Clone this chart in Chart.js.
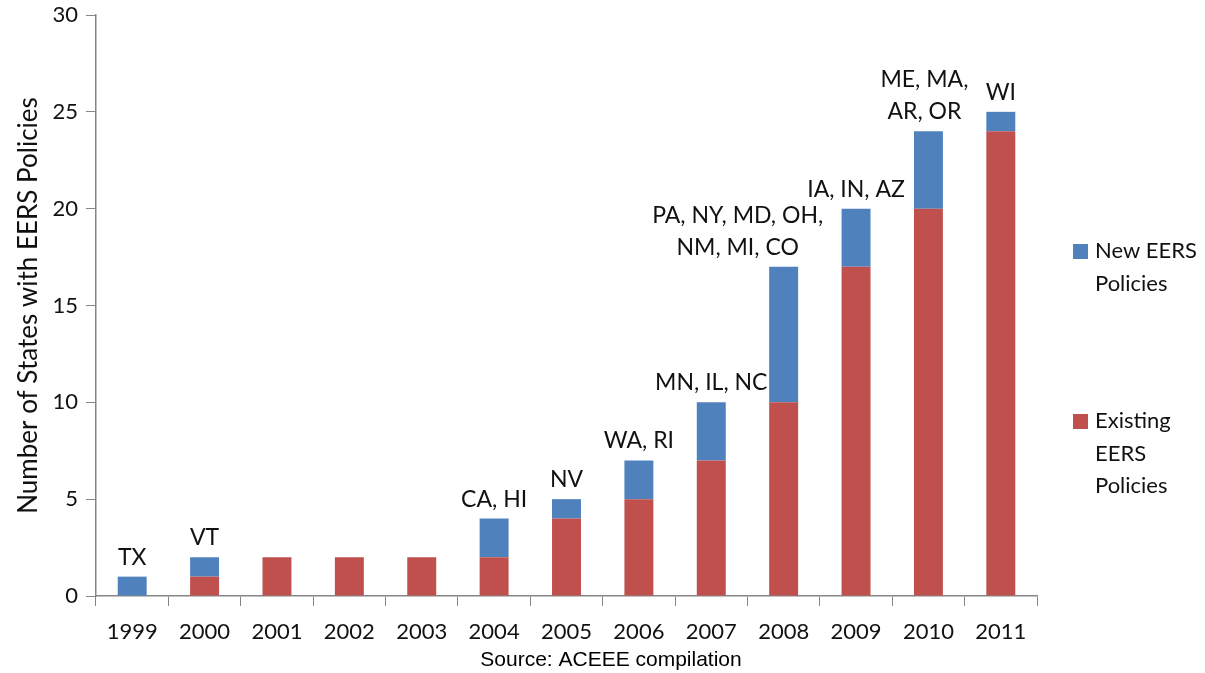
<!DOCTYPE html>
<html>
<head>
<meta charset="utf-8">
<script src="https://cdn.jsdelivr.net/npm/chart.js@4"></script>
<style>
  html, body { margin: 0; padding: 0; background: #fff; }
  #wrap { width: 1205px; height: 673px; }
</style>
</head>
<body>
<div id="wrap"><canvas id="eersChart" width="1205" height="673"></canvas></div>
<script>
// Données
const years = ['1999', '2000', '2001', '2002', '2003', '2004', '2005', '2006', '2007', '2008', '2009', '2010', '2011'];
const existingPolicies = [0, 1, 2, 2, 2, 2, 4, 5, 7, 10, 17, 20, 24];
const newPolicies = [1, 1, 0, 0, 0, 2, 1, 2, 3, 7, 3, 4, 1];
const newStates = [['TX'], ['VT'], [], [], [], ['CA, HI'], ['NV'], ['WA, RI'], ['MN, IL, NC'],
    ['PA, NY, MD, OH,', 'NM, MI, CO'], ['IA, IN, AZ'], ['ME, MA,', 'AR, OR'], ['WI']];
const yTicks = [0, 5, 10, 15, 20, 25, 30];

const FONT = 'Lato, "Open Sans", sans-serif';
const BLUE = '#4F81BD';
const RED = '#C0504D';
const AXIS = '#868686';

// Étiquettes des états au-dessus des barres, légende et source
const annotations = {
    id: 'annotations',
    afterDatasetsDraw(chart) {
        const { ctx } = chart;
        const top = chart.getDatasetMeta(1);
        const shift = { 9: -46, 11: -4 };
        ctx.save();
        ctx.font = '23px ' + FONT;
        ctx.fillStyle = '#111';
        ctx.textAlign = 'center';
        ctx.textBaseline = 'alphabetic';
        newStates.forEach((lines, i) => {
            if (!lines.length) return;
            const bar = top.data[i];
            const x = bar.x + (shift[i] || 0);
            let y = bar.y - 12;
            for (let k = lines.length - 1; k >= 0; k--) {
                ctx.fillText(lines[k], x, y);
                y -= 32;
            }
        });

        // Légende
        const items = [
            { color: BLUE, lines: ['New EERS', 'Policies'], y: 251 },
            { color: RED, lines: ['Existing', 'EERS', 'Policies'], y: 421 },
        ];
        ctx.font = '22px ' + FONT;
        ctx.textAlign = 'left';
        ctx.textBaseline = 'middle';
        items.forEach((it) => {
            ctx.fillStyle = it.color;
            ctx.fillRect(1073, it.y - 7, 15, 15);
            ctx.fillStyle = '#111';
            it.lines.forEach((t, k) => ctx.fillText(t, 1095, it.y + k * 32.5));
        });

        // Source
        ctx.font = '21px "Liberation Sans", Arial, sans-serif';
        ctx.fillStyle = '#000';
        ctx.textAlign = 'center';
        ctx.fillText('Source: ACEEE compilation', 611, 660);
        ctx.restore();
    },
};

const ctx = document.getElementById('eersChart').getContext('2d');
const eersChart = new Chart(ctx, {
    type: 'bar',
    data: {
        labels: years,
        datasets: [
            {
                label: 'Existing EERS Policies',
                data: existingPolicies,
                backgroundColor: RED,
                categoryPercentage: 1,
                barPercentage: 0.4,
            },
            {
                label: 'New EERS Policies',
                data: newPolicies,
                backgroundColor: BLUE,
                categoryPercentage: 1,
                barPercentage: 0.4,
            },
        ],
    },
    options: {
        responsive: false,
        animation: false,
        layout: { padding: { top: 15, right: 168, left: 0, bottom: 0 } },
        plugins: {
            legend: { display: false },
            tooltip: { enabled: false },
        },
        scales: {
            x: {
                stacked: true,
                grid: { display: true, drawOnChartArea: false, tickLength: 10, color: AXIS },
                border: { color: AXIS, width: 1.5 },
                ticks: { color: '#111', font: { family: FONT, size: 22 }, padding: 13, maxRotation: 0 },
                afterFit: (s) => {
                    s.height = 77;
                    s.paddingLeft = 0;
                    s.paddingRight = 0;
                },
            },
            y: {
                stacked: true,
                min: 0,
                max: 30,
                afterBuildTicks: (s) => { s.ticks = yTicks.map((v) => ({ value: v })); },
                grid: { display: true, drawOnChartArea: false, tickLength: 10, color: AXIS },
                border: { color: AXIS, width: 1.5 },
                ticks: { color: '#111', font: { family: FONT, size: 22 }, padding: 8 },
                title: {
                    display: true,
                    text: 'Number of States with EERS Policies',
                    color: '#111',
                    font: { family: FONT, size: 26 },
                    padding: { top: 13, bottom: 0 },
                },
                afterFit: (s) => {
                    s.width = 96;
                    s.paddingTop = 0;
                    s.paddingBottom = 0;
                },
            },
        },
    },
    plugins: [annotations],
});
</script>
</body>
</html>
